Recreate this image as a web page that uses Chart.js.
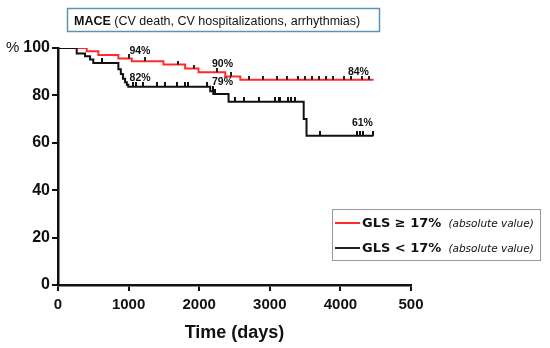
<!DOCTYPE html>
<html>
<head>
<meta charset="utf-8">
<script src="https://cdn.jsdelivr.net/npm/chart.js@4"></script>
<style>
  body { margin: 0; background: #fff; }
  #wrap { position: relative; width: 550px; height: 348px; }
</style>
</head>
<body>
<div id="wrap"><canvas id="km" width="550" height="348"></canvas></div>
<script>
/* Kaplan-Meier steps: time (days) where survival drops, and new survival (%) */
const redTimes = [0, 407, 572, 855, 1045, 1494, 1801, 1990, 2369, 2582, 4470];
const redSurv = [100, 98.6, 97, 95.6, 94.4, 93, 91.3, 89.8, 88, 86.6, 86.6];

const blackTimes = [0, 265, 383, 454, 500, 855, 890, 920, 950, 975, 995, 2156, 2200, 2416, 3480, 3520, 4468];
const blackSurv = [100, 97.7, 96.5, 95.1, 93.7, 91, 89, 87, 85.5, 84.5, 83.6, 81.7, 80.6, 77.3, 70, 63, 63];

/* Censored observations (days) */
const redCensor = [1000, 1230, 1700, 1920, 2250, 2450, 2700, 2900, 3100, 3250, 3400, 3500, 3600, 3700, 3800, 3900, 4050, 4150, 4300, 4400];
const blackCensor = [52, 255, 620, 1060, 1100, 1210, 1400, 1518, 1683, 1801, 1848, 2109, 2190, 2230, 2511, 2629, 2841, 3078, 3125, 3149, 3262, 3300, 3362, 3716, 4237, 4280, 4326, 4468];

/* Percent labels on the curves */
const noteText = ["94%", "90%", "84%", "82%", "79%", "61%"];
const noteDay = [1160, 2330, 4255, 1163, 2330, 4312];
const noteVal = [98.5, 93.4, 89.8, 87.1, 85.4, 68.1];

/* Tick labels */
const xTicks = ["0", "1000", "2000", "3000", "4000", "500"];

/* Helpers */
const toPoints = (t, s) => t.map((x, i) => ({ x: x, y: s[i] }));
function survAt(times, surv, d) {
  let v = surv[0];
  for (let i = 0; i < times.length; i++) if (times[i] <= d) v = surv[i];
  return v;
}
const censorPoints = (c, t, s) => c.map((d) => ({ x: d, y: survAt(t, s, d) }));

/* Upward censor tick: a small canvas, drawn centred on the point */
function tickMark(h, color) {
  const c = document.createElement("canvas");
  c.width = 2;
  c.height = h * 2;
  const g = c.getContext("2d");
  g.fillStyle = color;
  g.fillRect(0, 0, 2, h);
  return c;
}

/* Boxes, notes and % sign */
const decorations = {
  id: "decorations",
  afterDraw(chart) {
    const ctx = chart.ctx;
    const xs = chart.scales.x, ys = chart.scales.y;
    ctx.save();
    /* Title box */
    ctx.strokeStyle = "#5b93b5";
    ctx.lineWidth = 1.5;
    ctx.strokeRect(67.5, 8.5, 312, 23);
    ctx.fillStyle = "#111";
    ctx.textBaseline = "alphabetic";
    ctx.font = "bold 12.5px 'Liberation Sans', Arial";
    ctx.fillText("MACE", 74, 25);
    const w = ctx.measureText("MACE").width;
    ctx.font = "12.5px 'Liberation Sans', Arial";
    ctx.fillText(" (CV death, CV hospitalizations, arrhythmias)", 74 + w, 25);

    /* Percent sign */
    ctx.font = "15px 'Liberation Sans', Arial";
    ctx.textBaseline = "middle";
    ctx.fillText("%", 6, ys.getPixelForValue(100));

    /* Curve notes */
    ctx.font = "bold 10.5px 'Liberation Sans', Arial";
    ctx.textAlign = "center";
    noteText.forEach((t, i) => {
      ctx.fillText(t, xs.getPixelForValue(noteDay[i]), ys.getPixelForValue(noteVal[i]));
    });

    /* Legend box */
    ctx.textAlign = "left";
    ctx.strokeStyle = "#999";
    ctx.lineWidth = 1;
    ctx.strokeRect(332.5, 209.5, 208, 51);
    const rows = [
      { color: "#ff2a2a", label: "GLS \u2265 17%", y: 223 },
      { color: "#222", label: "GLS < 17%", y: 248 },
    ];
    rows.forEach((r) => {
      ctx.strokeStyle = r.color;
      ctx.lineWidth = 2;
      ctx.beginPath();
      ctx.moveTo(335, r.y);
      ctx.lineTo(360, r.y);
      ctx.stroke();
      ctx.fillStyle = "#111";
      ctx.font = "bold 13px 'DejaVu Sans', Verdana";
      ctx.fillText(r.label, 362, r.y + 1);
      const lw = ctx.measureText(r.label).width;
      ctx.font = "italic 10.5px 'DejaVu Sans', Verdana";
      ctx.fillText("(absolute value)", 362 + lw + 7, r.y + 1);
    });
    ctx.restore();
  },
};

new Chart(document.getElementById("km"), {
  type: "line",
  plugins: [decorations],
  data: {
    datasets: [
      {
        label: "GLS \u2265 17%",
        data: toPoints(redTimes, redSurv),
        stepped: true,
        borderColor: "#ff2a2a",
        borderWidth: 2,
        pointRadius: 0,
        order: 2,
      },
      {
        label: "GLS < 17%",
        data: toPoints(blackTimes, blackSurv),
        stepped: true,
        borderColor: "#111",
        borderWidth: 2,
        pointRadius: 0,
        order: 1,
      },
      {
        label: "red censored",
        data: censorPoints(redCensor, redTimes, redSurv),
        showLine: false,
        pointStyle: tickMark(4, "#222"),
        order: 0,
      },
      {
        label: "black censored",
        data: censorPoints(blackCensor, blackTimes, blackSurv),
        showLine: false,
        pointStyle: tickMark(5, "#111"),
        order: 0,
      },
    ],
  },
  options: {
    responsive: false,
    animation: false,
    devicePixelRatio: 1,
    layout: { padding: { top: 48, right: 139, left: 0, bottom: 0 } },
    plugins: {
      legend: { display: false },
      tooltip: { enabled: false },
    },
    scales: {
      x: {
        type: "linear",
        min: 0,
        max: 5000,
        afterFit: (s) => { s.height = 63; },
        afterBuildTicks: (s) => {
          s.ticks = xTicks.map((_, i) => ({ value: i * 1000 }));
        },
        ticks: {
          color: "#111",
          font: { family: "'Liberation Sans', Arial", weight: "bold", size: 15 },
          padding: 5,
          maxRotation: 0,
          callback: (v, i) => xTicks[i],
        },
        grid: { drawOnChartArea: false, drawTicks: true, tickLength: 6, color: "#111", lineWidth: 2 },
        border: { color: "#111", width: 2.5 },
        title: {
          display: true,
          text: "Time (days)",
          color: "#111",
          font: { family: "'Liberation Sans', Arial", weight: "bold", size: 18 },
          padding: { top: 0 },
        },
      },
      y: {
        min: 0,
        max: 100,
        afterFit: (s) => { s.width = 58; },
        ticks: {
          stepSize: 20,
          color: "#111",
          font: { family: "'Liberation Sans', Arial", weight: "bold", size: 16 },
          padding: 2,
        },
        grid: { drawOnChartArea: false, drawTicks: true, tickLength: 6, color: "#111", lineWidth: 2 },
        border: { color: "#111", width: 2.5 },
      },
    },
  },
});
</script>
</body>
</html>
